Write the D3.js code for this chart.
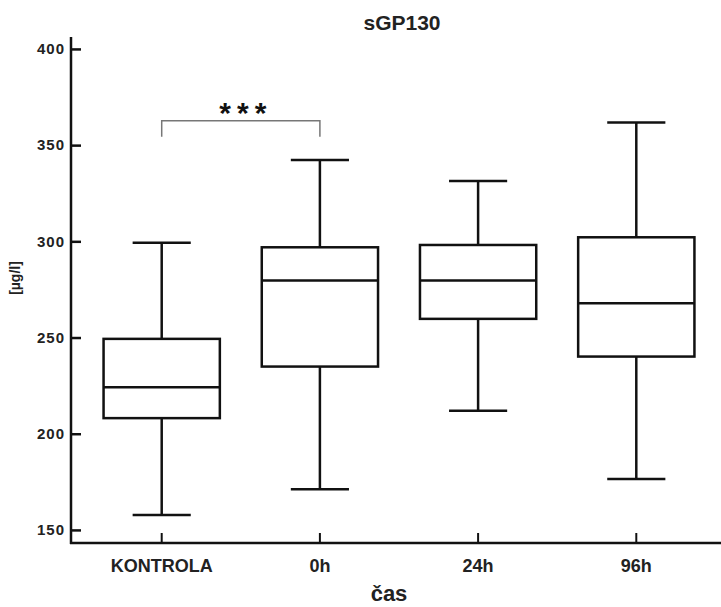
<!DOCTYPE html>
<html><head><meta charset="utf-8">
<script src="https://cdn.jsdelivr.net/npm/d3@7"></script>
<style>body{margin:0;background:#fff;} svg{display:block;font-family:Arial,"Liberation Sans",sans-serif;}</style>
</head><body>
<svg id="chart" width="721" height="607"></svg>
<script>
const categories = ["KONTROLA", "0h", "24h", "96h"];
const whiskerLow  = [157.8, 171.2, 212.0, 176.4];
const q1          = [208.1, 234.9, 259.7, 240.1];
const median      = [224.2, 279.6, 279.6, 267.8];
const q3          = [249.3, 296.9, 298.1, 302.1];
const whiskerHigh = [299.3, 342.3, 331.4, 361.7];
const yTicks = [150, 200, 250, 300, 350, 400];
const sigPair = ["KONTROLA", "0h"];
const sigLabel = "***";
const sigLevels = [362.7, 354.4];

const svg = d3.select("#chart");
const axisX0 = 71, axisXEnd = 721, axisY0 = 543, axisYTop = 37;

const y = d3.scaleLinear().domain([143.2, 406.2]).range([axisY0, axisYTop]);
const x = d3.scaleBand().domain(categories).range([83, 715]).paddingInner(0.265).paddingOuter(0.13);
const cx = c => x(c) + x.bandwidth() / 2;
const bw = x.bandwidth();
const capW = bw / 2;

// Y axis
const yAxis = svg.append("g").attr("transform", `translate(${axisX0},0)`)
  .call(d3.axisLeft(y).tickValues(yTicks).tickSizeInner(-10).tickSizeOuter(0).tickPadding(6));
yAxis.select(".domain").remove();
yAxis.selectAll(".tick line").attr("stroke", "#111").attr("stroke-width", 2.5);
yAxis.selectAll(".tick text").attr("font-size", 15).attr("font-weight", "bold").attr("fill", "#222")
  .attr("x", -6).attr("letter-spacing", 1);
svg.append("line").attr("x1", axisX0).attr("x2", axisX0).attr("y1", axisYTop).attr("y2", axisY0 + 1)
  .attr("stroke", "#111").attr("stroke-width", 2.5);

// X axis
const xAxis = svg.append("g").attr("transform", `translate(0,${axisY0})`)
  .call(d3.axisBottom(x).tickSizeInner(-10).tickSizeOuter(0).tickPadding(16));
xAxis.select(".domain").remove();
xAxis.selectAll(".tick line").attr("stroke", "#111").attr("stroke-width", 2);
xAxis.selectAll(".tick text").attr("font-size", 18).attr("font-weight", "bold").attr("fill", "#222");
svg.append("line").attr("x1", axisX0 - 1).attr("x2", axisXEnd).attr("y1", axisY0).attr("y2", axisY0)
  .attr("stroke", "#111").attr("stroke-width", 2.5);

// Boxes
const data = categories.map((c, i) => ({c, lo: whiskerLow[i], q1: q1[i], med: median[i], q3: q3[i], hi: whiskerHigh[i]}));
const g = svg.append("g").attr("stroke", "#111").attr("stroke-width", 2.5).attr("fill", "none");
const bx = g.selectAll("g.box").data(data).join("g").attr("class", "box");
bx.append("line").attr("x1", d => cx(d.c)).attr("x2", d => cx(d.c)).attr("y1", d => y(d.hi)).attr("y2", d => y(d.q3));
bx.append("line").attr("x1", d => cx(d.c)).attr("x2", d => cx(d.c)).attr("y1", d => y(d.q1)).attr("y2", d => y(d.lo));
bx.append("line").attr("x1", d => cx(d.c) - capW / 2).attr("x2", d => cx(d.c) + capW / 2).attr("y1", d => y(d.hi)).attr("y2", d => y(d.hi));
bx.append("line").attr("x1", d => cx(d.c) - capW / 2).attr("x2", d => cx(d.c) + capW / 2).attr("y1", d => y(d.lo)).attr("y2", d => y(d.lo));
bx.append("rect").attr("x", d => x(d.c)).attr("width", bw).attr("y", d => y(d.q3)).attr("height", d => y(d.q1) - y(d.q3)).attr("fill", "#fff");
bx.append("line").attr("x1", d => x(d.c)).attr("x2", d => x(d.c) + bw).attr("y1", d => y(d.med)).attr("y2", d => y(d.med));

// Significance bracket
const sx1 = cx(sigPair[0]), sx2 = cx(sigPair[1]);
svg.append("path")
  .attr("d", `M${sx1},${y(sigLevels[1])}V${y(sigLevels[0])}H${sx2}V${y(sigLevels[1])}`)
  .attr("fill", "none").attr("stroke", "#777").attr("stroke-width", 1.5);
svg.append("text").attr("x", (sx1 + sx2) / 2 + 5).attr("y", y(sigLevels[0]) + 2)
  .attr("text-anchor", "middle").attr("font-size", 30).attr("font-weight", "bold").attr("fill", "#111")
  .attr("letter-spacing", 6).text(sigLabel);

// Titles
svg.append("text").attr("x", 402).attr("y", 30).attr("text-anchor", "middle")
  .attr("font-size", 21).attr("font-weight", "bold").attr("fill", "#222").text("sGP130");
svg.append("text").attr("x", 389).attr("y", 601).attr("text-anchor", "middle")
  .attr("font-size", 22).attr("font-weight", "bold").attr("fill", "#222").text("čas");
svg.append("text").attr("transform", "translate(20,278) rotate(-90)").attr("text-anchor", "middle")
  .attr("font-size", 14).attr("font-weight", "bold").attr("fill", "#222").text("[µg/l]");
</script>
</body></html>
